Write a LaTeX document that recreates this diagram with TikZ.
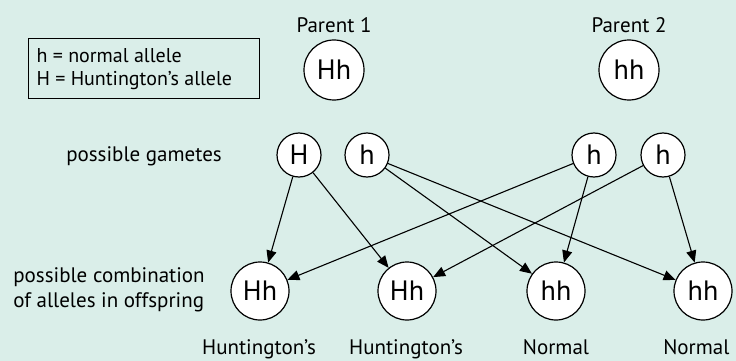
\documentclass[tikz,border=0pt]{standalone}
\usepackage{fontspec}
\setmainfont{PT Sans}
\usetikzlibrary{arrows.meta}
\definecolor{mint}{RGB}{218,238,233}

\tikzset{
  allele/.style={circle,draw=black,fill=white,line width=1.2pt,inner sep=0pt,font=\fontsize{28}{30}\selectfont},
  parent/.style={allele,minimum size=60pt},
  gamete/.style={allele,minimum size=44pt},
  child/.style={allele,minimum size=58pt},
  txt/.style={font=\fontsize{21}{25}\selectfont},
  cross/.style={line width=1.1pt,-{Triangle[length=12pt,width=10pt]}}
}

\begin{document}
\begin{tikzpicture}[x=1pt,y=-1pt]
\fill[color=mint] (0,0) rectangle (736,361);
\useasboundingbox (0,0) rectangle (736,361);
% key
\draw[color=black,line width=1pt] (28,39) rectangle (259,98);
\node[txt,font=\fontsize{20}{24}\selectfont,anchor=west] (key1) at (33,56) {h = normal allele};
\node[txt,font=\fontsize{20}{24}\selectfont,anchor=west] (key2) at (33,81) {H = Huntington’s allele};
% parents
\node[txt] (lp1) at (334,25) {Parent 1};
\node[txt] (lp2) at (629,25) {Parent 2};
\node[parent] (p1) at (334,70) {Hh};
\node[parent] (p2) at (629,70) {hh};
% gametes
\node[txt] (lg) at (144,156) {possible gametes};
\node[gamete] (gH) at (299,155) {H};
\node[gamete] (gh1) at (367,155) {h};
\node[gamete] (gh2) at (594,155) {h};
\node[gamete] (gh3) at (663,155) {h};
% offspring
\node[txt,align=left] (lo) at (109,290) {possible combination\\of alleles in offspring};
\node[child] (o1) at (260,291) {Hh};
\node[child] (o2) at (407,291) {Hh};
\node[child] (o3) at (556,291) {hh};
\node[child] (o4) at (703,291) {hh};
\node[txt,anchor=base] (t1) at (259,354) {Huntington’s};
\node[txt,anchor=base] (t2) at (406,354) {Huntington’s};
\node[txt,anchor=base] (t3) at (556,354) {Normal};
\node[txt,anchor=base east] (t4) at (733,354) {Normal};
% crosses
\draw[cross] (gH) -- (o1);
\draw[cross] (gH) -- (o2);
\draw[cross] (gh1) -- (o3);
\draw[cross] (gh1) -- (o4);
\draw[cross] (gh2) -- (o1);
\draw[cross] (gh2) -- (o3);
\draw[cross] (gh3) -- (o2);
\draw[cross] (gh3) -- (o4);
\end{tikzpicture}
\end{document}
